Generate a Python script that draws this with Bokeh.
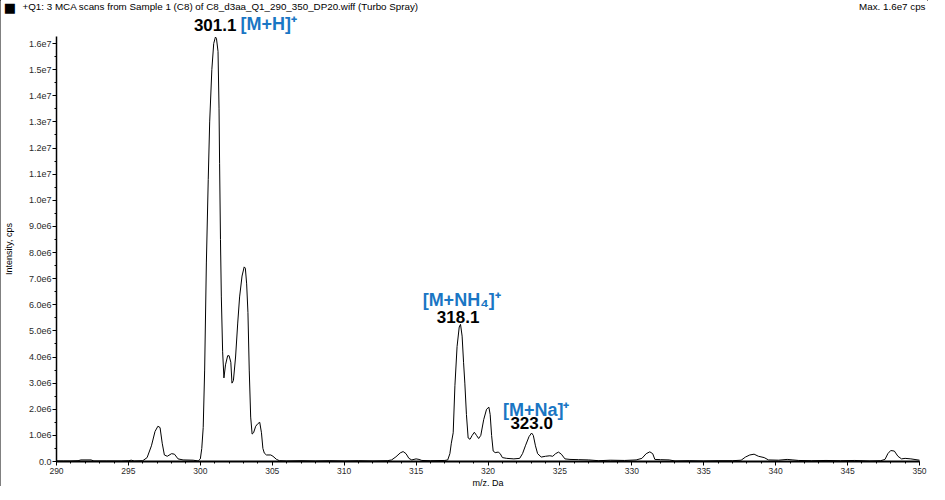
from bokeh.plotting import figure
from bokeh.models import FixedTicker, Label
from bokeh.embed import file_html
from bokeh.resources import INLINE

# ---------------- data ----------------
mz = [290.0, 290.5, 291.0, 291.5, 291.7, 292.4, 292.6, 293.5, 294.5, 295.0, 295.2, 295.4,
      296.0, 296.3, 296.6, 296.85, 297.05, 297.2, 297.35, 297.5, 297.7, 298.0, 298.2, 298.45,
      298.8, 299.5, 299.85, 300.0, 300.1, 300.2, 300.3, 300.42, 300.55, 300.65, 300.8, 300.93,
      301.05, 301.12, 301.23, 301.3, 301.34, 301.4, 301.46, 301.55, 301.64, 301.75, 301.9,
      302.0, 302.12, 302.2, 302.3, 302.45, 302.6, 302.73, 302.9, 303.05, 303.13, 303.22,
      303.31, 303.4, 303.5, 303.6, 303.7, 303.85, 304.0, 304.13, 304.25, 304.35, 304.45,
      304.6, 304.9, 305.05, 305.3, 305.5, 306.0, 307.0, 308.0, 309.0, 310.0, 311.0, 312.0,
      313.0, 313.3, 313.6, 313.9, 314.1, 314.3, 314.5, 314.7, 315.0, 315.2, 315.4, 316.0,
      317.0, 317.2, 317.35, 317.45, 317.58, 317.7, 317.85, 318.0, 318.09, 318.2, 318.3,
      318.39, 318.5, 318.62, 318.75, 318.9, 319.05, 319.2, 319.35, 319.5, 319.7, 319.9,
      320.06, 320.15, 320.25, 320.36, 320.5, 320.71, 320.85, 321.0, 321.3, 321.8, 322.2,
      322.4, 322.6, 322.85, 323.03, 323.15, 323.3, 323.45, 323.7, 324.0, 324.3, 324.5,
      324.7, 324.9, 325.1, 325.35, 325.7, 326.3, 327.0, 327.7, 328.5, 329.5, 330.3, 330.7,
      331.0, 331.25, 331.45, 331.6, 332.0, 332.6, 333.0, 334.0, 335.0, 336.0, 337.0, 337.6,
      337.9, 338.2, 338.5, 338.8, 339.2, 339.5, 340.2, 340.8, 341.2, 341.6, 342.5, 343.5,
      344.5, 345.5, 346.5, 347.3, 347.6, 347.8, 348.0, 348.25, 348.5, 348.75, 349.0, 349.4,
      350.0]
intensity_e6 = [0.02, 0.02, 0.02, 0.03, 0.06, 0.06, 0.02, 0.02, 0.02, 0.03, 0.05, 0.02,
                0.03, 0.15, 0.6, 1.15, 1.35, 1.3, 0.7, 0.25, 0.2, 0.3, 0.28, 0.1,
                0.06, 0.05, 0.02, 0.1, 0.5, 1.3, 3.5, 7.6, 10.8, 13.0, 15.0, 16.0,
                16.25, 16.2, 15.7, 13.5, 11.4, 8.5, 6.3, 4.2, 3.2, 3.7, 4.05,
                4.05, 3.8, 3.0, 3.1, 4.0, 5.3, 6.3, 7.1, 7.45, 7.4, 6.8,
                5.7, 3.5, 1.7, 1.05, 1.1, 1.35, 1.45, 1.5, 1.1, 0.5, 0.32,
                0.25, 0.25, 0.2, 0.08, 0.03, 0.02, 0.03, 0.02, 0.03, 0.02, 0.03, 0.02,
                0.03, 0.06, 0.18, 0.33, 0.38, 0.3, 0.12, 0.06, 0.1, 0.08, 0.04, 0.03,
                0.04, 0.06, 0.3, 0.7, 1.1, 2.9, 4.4, 5.15, 5.25, 4.8, 3.8,
                3.0, 1.8, 0.9, 0.85, 1.0, 1.12, 1.0, 0.88, 1.0, 1.6, 2.0,
                2.08, 1.8, 1.0, 0.4, 0.34, 0.36, 0.3, 0.15, 0.12, 0.1, 0.12,
                0.3, 0.6, 0.95, 1.09, 1.0, 0.6, 0.3, 0.17, 0.2, 0.22, 0.2,
                0.3, 0.36, 0.28, 0.1, 0.08, 0.07, 0.06, 0.03, 0.05, 0.04, 0.06, 0.12,
                0.3, 0.37, 0.3, 0.08, 0.07, 0.06, 0.02, 0.03, 0.02, 0.03, 0.03, 0.05,
                0.17, 0.25, 0.28, 0.2, 0.15, 0.06, 0.05, 0.08, 0.06, 0.04, 0.03, 0.04,
                0.03, 0.04, 0.02, 0.03, 0.08, 0.3, 0.42, 0.4, 0.2, 0.1, 0.12, 0.1,
                0.05]
intensity = [v * 1e6 for v in intensity_e6]

x_ticks = [290, 295, 300, 305, 310, 315, 320, 325, 330, 335, 340, 345, 350]
x_minor = list(range(290, 351))
y_ticks = [0, 1e6, 2e6, 3e6, 4e6, 5e6, 6e6, 7e6, 8e6, 9e6, 1e7, 1.1e7, 1.2e7, 1.3e7,
           1.4e7, 1.5e7, 1.6e7]
y_tick_labels = ["0.0", "1.0e6", "2.0e6", "3.0e6", "4.0e6", "5.0e6", "6.0e6", "7.0e6",
                 "8.0e6", "9.0e6", "1.0e7", "1.1e7", "1.2e7", "1.3e7", "1.4e7", "1.5e7",
                 "1.6e7"]
y_minor = [i * 0.5e6 for i in range(0, 33)]

peak_mz = [301.1, 318.1, 323.0]
peak_int = [16.25e6, 5.25e6, 1.09e6]
peak_labels = ["301.1", "318.1", "323.0"]
ion_labels = ["[M+H]\u207a", "[M+NH\u2084]\u207a", "[M+Na]\u207a"]

header = "+Q1: 3 MCA scans from Sample 1 (C8) of C8_d3aa_Q1_290_350_DP20.wiff (Turbo Spray)"
max_text = "Max. 1.6e7 cps"

X_START, X_END = 290, 350
Y_START, Y_END = 0, 1.627e7

FONT = "Liberation Sans"
BLUE = "#1a76c4"
GREY = "#2a2a2a"

# layout geometry (pixels): plot area inside a full-canvas frame
W, H = 928, 486
AX_L, AX_R = 56, 919      # x pixel of m/z 290 and 350
AX_TOP, AX_BOT = 36, 461  # y pixel of intensity Y_END and 0
px_per_mz = (AX_R - AX_L) / (X_END - X_START)
units_per_px = (Y_END - Y_START) / (AX_BOT - AX_TOP)

x_lo = X_START - AX_L / px_per_mz
x_hi = X_END + (W - AX_R) / px_per_mz
y_lo = Y_START - (H - AX_BOT) * units_per_px
y_hi = Y_END + AX_TOP * units_per_px

p = figure(width=W, height=H, x_range=(x_lo, x_hi), y_range=(y_lo, y_hi),
           output_backend="svg", toolbar_location=None, min_border=0)
p.border_fill_color = None
p.outline_line_color = None
p.grid.visible = False
p.styles = {"box-shadow": "inset 1px 0 0 #000, inset -1px 0 0 #000, inset 0 -1px 0 #000"}

p.line(mz, intensity, line_color="black", line_width=1)

for ax in (p.xaxis[0], p.yaxis[0]):
    ax.axis_line_color = "black"
    ax.axis_line_width = 1.5
    ax.major_tick_in = 0
    ax.major_tick_out = 4
    ax.minor_tick_in = 0
    ax.minor_tick_out = 2
    ax.major_tick_line_color = "black"
    ax.minor_tick_line_color = "black"
    ax.major_label_text_font = FONT
    ax.major_label_text_color = GREY
    ax.axis_label_text_font = FONT
    ax.axis_label_text_font_size = "9px"
    ax.axis_label_text_font_style = "normal"
    ax.axis_label_text_color = "black"

xa = p.xaxis[0]
xa.fixed_location = Y_START
xa.bounds = (X_START, X_END)
xa.axis_line_width = 2
xa.ticker = FixedTicker(ticks=x_ticks, minor_ticks=x_minor)
xa.axis_label = "m/z, Da"
xa.axis_label_standoff = 1
xa.major_label_standoff = 2
xa.major_label_text_font_size = "8.5px"

ya = p.yaxis[0]
ya.fixed_location = X_START
ya.bounds = (Y_START, Y_END)
ya.ticker = FixedTicker(ticks=y_ticks, minor_ticks=y_minor)
ya.major_label_overrides = {t: l for t, l in zip(y_ticks, y_tick_labels)}
ya.axis_label = "Intensity, cps"
ya.axis_label_standoff = 12
ya.major_label_standoff = 1
ya.major_label_text_font_size = "9px"
ya.major_label_orientation = "horizontal"

# header texts anchored to the canvas corners
p.add_layout(Label(x=x_lo, y=y_hi, x_offset=22, y_offset=-5.5, text=header,
                   text_font=FONT, text_font_size="9.8px", text_color="black",
                   text_baseline="middle", text_align="left"))
p.add_layout(Label(x=x_hi, y=y_hi, x_offset=-3, y_offset=-5.5, text=max_text,
                   text_font=FONT, text_font_size="9.8px", text_color="black",
                   text_baseline="middle", text_align="right"))
p.add_layout(Label(x=x_lo, y=y_hi, x_offset=9.5, y_offset=-6.5, text="\u25a0",
                   text_font="DejaVu Sans", text_font_size="13px", text_color="black",
                   text_baseline="middle", text_align="center"))

# peak annotations
num_off = [(-1, 12), (-2.6, 7.4), (0.5, 10)]
ion_off = [(24.4, 12.6, "left"), (1, 24, "center"), (5, 23.5, "center")]
for i in range(3):
    dx, dy = num_off[i]
    p.add_layout(Label(x=peak_mz[i], y=peak_int[i], x_offset=dx, y_offset=dy,
                       text=peak_labels[i], text_font=FONT, text_font_size="17px",
                       text_font_style="bold", text_color="black",
                       text_baseline="middle", text_align="center"))
    ix, iy, al = ion_off[i]
    p.add_layout(Label(x=peak_mz[i], y=peak_int[i], x_offset=ix, y_offset=iy,
                       text=ion_labels[i], text_font=FONT, text_font_size="18px",
                       text_font_style="bold", text_color=BLUE,
                       text_baseline="middle", text_align=al))

open("out.html", "w").write(file_html(p, INLINE))
